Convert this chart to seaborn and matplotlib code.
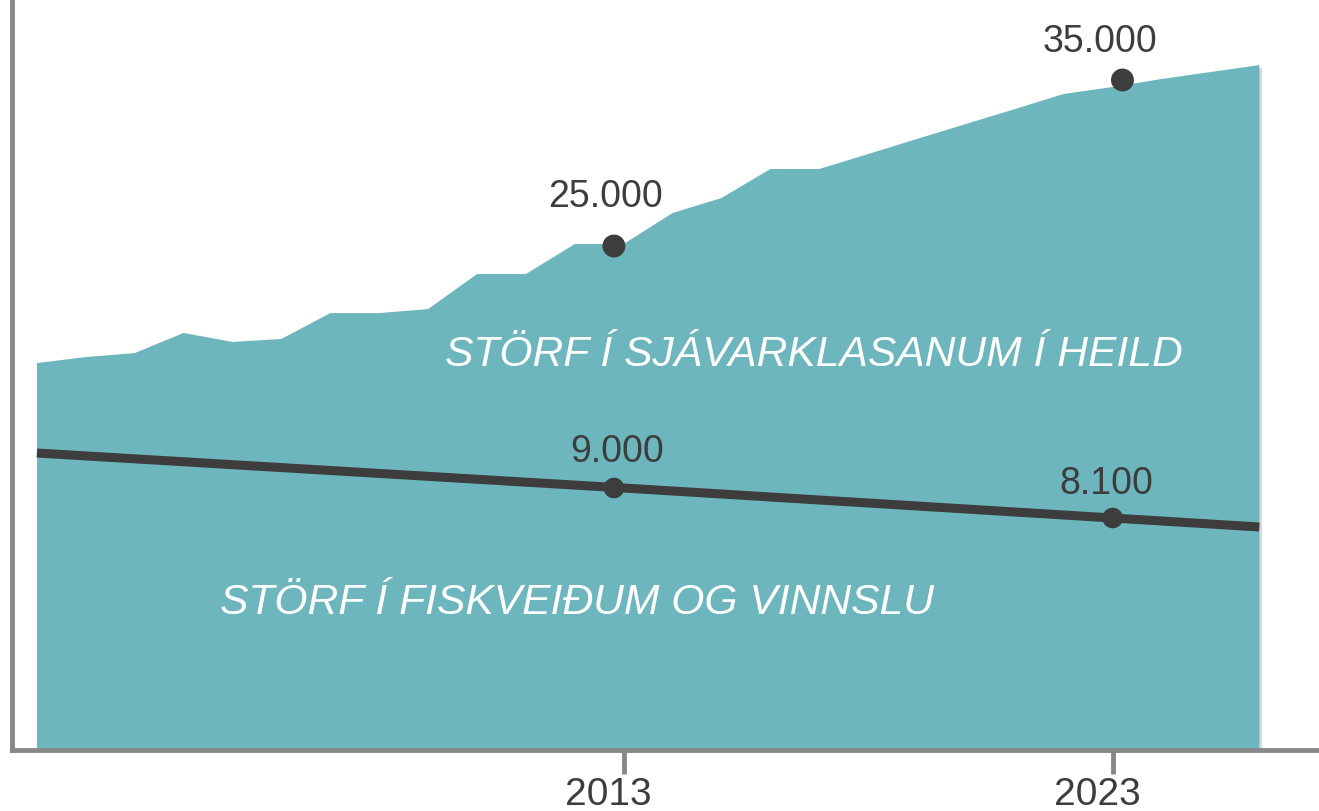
import matplotlib
matplotlib.use("Agg")
import matplotlib.pyplot as plt
import matplotlib.patheffects as pe
from matplotlib.transforms import ScaledTranslation
import seaborn as sns
import pandas as pd

# jobs in the whole ocean cluster, one value per year
years = list(range(2001, 2027))
cluster_jobs = [17950, 18310, 18550, 19760, 19220, 19400, 20960, 20960, 21200,
                23310, 23310, 25120, 25120, 26990, 27890, 29640, 29640, 30540,
                31450, 32350, 33250, 34160, 34580, 35060, 35480, 35900]

# jobs in fishing and processing
fishing_years = [2001, 2013, 2023, 2026]
fishing_jobs = [10050, 9000, 8100, 7830]

# highlighted points
cluster_mark_years = [2012.8, 2023.2]
cluster_marks = [25000, 35000]
fishing_mark_years = [2012.8, 2023.0]
fishing_marks = [9000, 8100]

tick_years = [2013, 2023]
label_cluster = "STÖRF Í SJÁVARKLASANUM Í HEILD"
label_fishing = "STÖRF Í FISKVEIÐUM OG VINNSLU"

teal = "#6db6bd"
dark = "#3d3d3d"
grey = "#888888"

sns.set_style("white")
plt.rcParams["font.family"] = ["Liberation Sans", "DejaVu Sans"]

fig = plt.figure(figsize=(13.19, 8.12), dpi=100)
ax = fig.add_axes([12 / 1319, 61 / 812, 1307 / 1319, 751 / 812])
ax.set_xlim(2000.49, 2027.22)
ax.set_ylim(-5361, 39880)

# area for the whole cluster
area = ax.fill_between(years, cluster_jobs, ax.get_ylim()[0], color=teal, lw=0,
                       zorder=1)
area.set_path_effects([pe.SimplePatchShadow(offset=(2, -2), alpha=0.18),
                       pe.Normal()])

marks_df = pd.DataFrame({"year": cluster_mark_years, "jobs": cluster_marks})
sns.scatterplot(data=marks_df, x="year", y="jobs", s=272, color=dark,
                edgecolor="none", ax=ax, zorder=3)
for x, y, (dx, dy) in zip(cluster_mark_years, cluster_marks, [(-8, 40), (-22, 29)]):
    ax.annotate(f"{y:,}".replace(",", "."), (x, y), xytext=(dx, dy),
                textcoords="offset pixels", ha="center", va="baseline",
                fontsize=27, color=dark)

# fishing line on its own scale
ax2 = ax.twinx()
ax2.set_ylim(1140, 23670)
fish_df = pd.DataFrame({"year": fishing_years, "jobs": fishing_jobs})
sns.lineplot(data=fish_df, x="year", y="jobs", color=dark, lw=6.5, ax=ax2,
             solid_capstyle="butt")
fmarks_df = pd.DataFrame({"year": fishing_mark_years, "jobs": fishing_marks})
sns.scatterplot(data=fmarks_df, x="year", y="jobs", s=220, color=dark,
                edgecolor="none", ax=ax2, zorder=3)
for x, y, (dx, dy) in zip(fishing_mark_years, fishing_marks, [(3, 27), (-6, 25)]):
    ax2.annotate(f"{y:,}".replace(",", "."), (x, y), xytext=(dx, dy),
                 textcoords="offset pixels", ha="center", va="baseline",
                 fontsize=27, color=dark)
ax2.set_yticks([])
ax2.set_ylabel("")
for s in ax2.spines.values():
    s.set_visible(False)

# series labels
ax.text(0.331, 0.513, label_cluster, transform=ax.transAxes, ha="left",
        va="baseline", fontsize=30.7, style="italic", color="white", zorder=4)
ax.text(0.159, 0.182, label_fishing, transform=ax.transAxes, ha="left",
        va="baseline", fontsize=30.7, style="italic", color="white", zorder=4)

# axes styling
ax.set_xticks(tick_years)
ax.set_xticklabels([str(t) for t in tick_years])
ax.set_yticks([])
ax.set_xlabel("")
ax.set_ylabel("")
ax.tick_params(axis="x", bottom=True, direction="out", length=17, width=3.5,
               color=grey, labelsize=28, labelcolor=dark, pad=2)
for lbl in ax.get_xticklabels():
    lbl.set_transform(lbl.get_transform() + ScaledTranslation(-0.15, 0, fig.dpi_scale_trans))
ax.spines["top"].set_visible(False)
ax.spines["right"].set_visible(False)
for side in ["left", "bottom"]:
    ax.spines[side].set_color(grey)
    ax.spines[side].set_linewidth(3.5)

fig.savefig("out.png", dpi=100)
